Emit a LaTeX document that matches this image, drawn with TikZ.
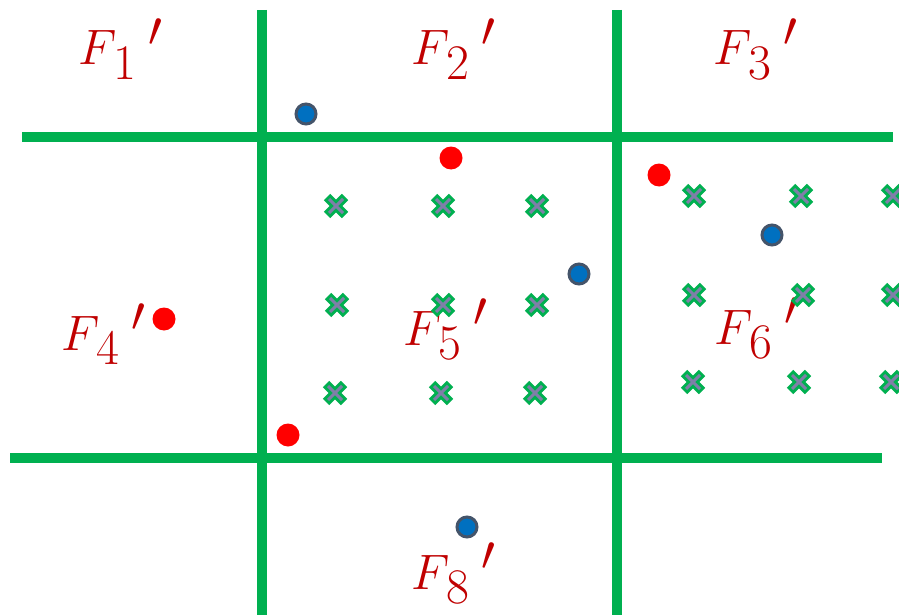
\documentclass[tikz,border=0pt]{standalone}
\usepackage{tikz}
\definecolor{gridgreen}{HTML}{00B050}
\definecolor{labelred}{HTML}{C00000}
\definecolor{dotred}{HTML}{FF0000}
\definecolor{dotblue}{HTML}{0070C0}
\definecolor{rimslate}{HTML}{44546A}
\definecolor{crossgray}{HTML}{7F7FA8}
\DeclareMathSizes{31}{31}{24}{18}
\newcommand\facename[1]{$F\mkern-1mu_{\lower3pt\hbox{$\scriptstyle #1$}}\mkern4mu{}'$}

\begin{document}
\begin{tikzpicture}[x=0.5pt,y=-0.5pt,
  gridline/.style={gridgreen,line width=5pt},
  reddot/.style={circle,fill=dotred,inner sep=0pt,minimum size=11.5pt},
  bluedot/.style={circle,draw=rimslate,fill=dotblue,line width=1.5pt,inner sep=0pt,minimum size=10pt},
  facelabel/.style={anchor=base west,inner sep=0pt,text=labelred,font=\fontsize{31}{36}\selectfont},
  pics/xmark/.style={code={
    \draw[gridgreen,line width=4.5pt] (-9,-9) -- (9,9) (-9,9) -- (9,-9);
    \draw[crossgray,line width=1.5pt] (-7,-7) -- (7,7) (-7,7) -- (7,-7);}}]
  \useasboundingbox[fill=white] (0,0) rectangle (899,615);
  % grid
  \coordinate (h1w) at (22,137);  \coordinate (h1e) at (893,137);
  \coordinate (h2w) at (10,458);  \coordinate (h2e) at (882,458);
  \coordinate (v1n) at (262,10);  \coordinate (v1s) at (262,615);
  \coordinate (v2n) at (617,10);  \coordinate (v2s) at (617,615);
  \draw[gridline] (h1w) -- (h1e);
  \draw[gridline] (h2w) -- (h2e);
  \draw[gridline] (v1n) -- (v1s);
  \draw[gridline] (v2n) -- (v2s);
  % face labels
  \node[facelabel] (f1) at (78,65)  {\facename{1}};
  \node[facelabel] (f2) at (411,65) {\facename{2}};
  \node[facelabel] (f3) at (713,65) {\facename{3}};
  \node[facelabel] (f4) at (61,350) {\facename{4}};
  \node[facelabel] (f5) at (403,345) {\facename{5}};
  \node[facelabel] (f6) at (714,344) {\facename{6}};
  \node[facelabel] (f8) at (411,589) {\facename{8}};
  % sample points
  \foreach \cx/\cy in {336/206,443/206,537/206,337/305,443/305,537/305,335/393,441/393,535/393,
                       694/196,801/196,893/196,694/295,803/295,893/295,693/382,799/382,891/382}
    \pic at (\cx,\cy) {xmark};
  \node[reddot] (r1) at (451,158) {};
  \node[reddot] (r2) at (659,175) {};
  \node[reddot] (r3) at (164,319) {};
  \node[reddot] (r4) at (288,435) {};
  \node[bluedot] (b1) at (306,114) {};
  \node[bluedot] (b2) at (579,274) {};
  \node[bluedot] (b3) at (772,235) {};
  \node[bluedot] (b4) at (467,527) {};
\end{tikzpicture}
\end{document}
